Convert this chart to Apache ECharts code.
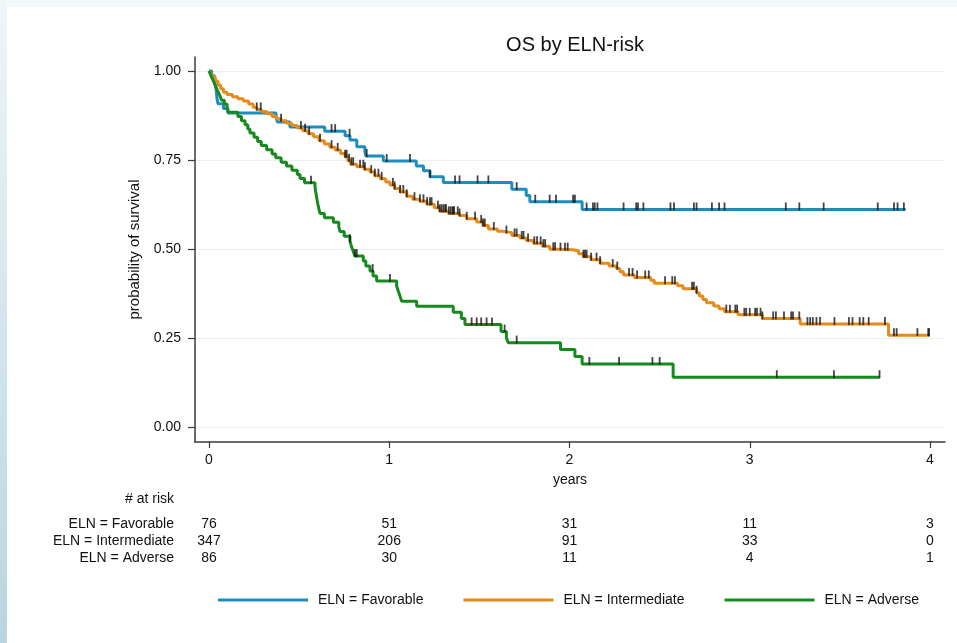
<!DOCTYPE html>
<html><head><meta charset="utf-8">
<script src="https://cdn.jsdelivr.net/npm/echarts@6/dist/echarts.min.js"></script>
<style>
html,body{margin:0;padding:0;width:957px;height:643px;overflow:hidden;background:#fff;}
#edgeL{position:absolute;left:0;top:0;width:7px;height:643px;background:linear-gradient(#eef6f9,#b9d5e0);}
#edgeT{position:absolute;left:7px;top:0;width:950px;height:7px;background:#f3f8fa;}
#chart{position:absolute;left:0;top:0;width:957px;height:643px;}
</style></head><body>
<div id="edgeL"></div><div id="edgeT"></div>
<div id="chart"></div>
<script>
// ---------- data ----------
const groupNames = ['ELN = Favorable', 'ELN = Intermediate', 'ELN = Adverse'];
const xTicks = [0, 1, 2, 3, 4];
const yTicks = [0, 0.25, 0.5, 0.75, 1];

// Kaplan-Meier steps: [years, survival after the event]
const favorableSteps = [
  [0,1],[0.015,0.987],[0.03,0.974],[0.04,0.947],[0.045,0.921],[0.05,0.908],[0.08,0.895],[0.105,0.882],
  [0.372,0.869],[0.38,0.857],[0.449,0.843],[0.642,0.831],[0.755,0.818],[0.782,0.806],[0.82,0.787],
  [0.865,0.774],[0.87,0.761],[0.967,0.747],[1.15,0.733],[1.19,0.72],[1.226,0.703],[1.30,0.687],
  [1.68,0.668],[1.76,0.650],[1.78,0.633],[2.07,0.611],[3.865,0.611]
];
const intermediateSteps = [
  [0,1],[0.01,0.994],[0.02,0.983],[0.035,0.971],[0.05,0.96],[0.065,0.95],[0.08,0.94],
  [0.1,0.934],[0.13,0.928],[0.16,0.922],[0.19,0.916],[0.22,0.907],[0.245,0.898],[0.265,0.892],[0.29,0.886],
  [0.32,0.880],[0.35,0.872],[0.375,0.866],[0.40,0.860],[0.43,0.853],[0.46,0.847],[0.49,0.840],[0.52,0.832],
  [0.55,0.824],[0.58,0.815],[0.61,0.804],[0.64,0.795],[0.67,0.786],[0.70,0.778],[0.73,0.768],[0.755,0.759],
  [0.77,0.748],[0.785,0.738],[0.82,0.731],[0.86,0.724],[0.893,0.716],[0.92,0.706],[0.95,0.697],[0.98,0.688],
  [1.004,0.680],[1.03,0.670],[1.06,0.660],[1.097,0.648],[1.13,0.640],[1.17,0.634],[1.21,0.626],[1.25,0.616],
  [1.28,0.606],[1.33,0.600],[1.39,0.594],[1.43,0.585],[1.485,0.576],[1.52,0.566],[1.55,0.556],[1.6,0.550],
  [1.63,0.546],[1.68,0.538],[1.725,0.531],[1.76,0.524],[1.8,0.516],[1.85,0.508],[1.89,0.499],[1.95,0.498],
  [2.02,0.495],[2.05,0.487],[2.077,0.478],[2.12,0.470],[2.17,0.460],[2.22,0.452],[2.26,0.445],[2.28,0.436],
  [2.30,0.427],[2.36,0.420],[2.45,0.412],[2.47,0.404],[2.6,0.397],[2.63,0.388],[2.705,0.377],[2.72,0.368],
  [2.74,0.358],[2.76,0.349],[2.80,0.340],[2.83,0.332],[2.86,0.324],[2.935,0.315],[3.07,0.305],[3.28,0.289],
  [3.77,0.258],[4.0,0.258]
];
const adverseSteps = [
  [0,1],[0.01,0.988],[0.02,0.977],[0.03,0.965],[0.04,0.953],[0.05,0.942],[0.061,0.93],[0.07,0.918],
  [0.085,0.907],[0.1,0.895],[0.107,0.884],[0.16,0.872],[0.18,0.86],[0.2,0.849],[0.215,0.837],[0.227,0.826],
  [0.25,0.814],[0.27,0.802],[0.29,0.791],[0.32,0.779],[0.35,0.767],[0.37,0.756],[0.40,0.744],[0.43,0.733],
  [0.46,0.721],[0.49,0.709],[0.505,0.698],[0.53,0.686],[0.588,0.674],[0.592,0.661],[0.596,0.649],[0.60,0.637],
  [0.605,0.624],[0.61,0.612],[0.616,0.600],[0.64,0.588],[0.69,0.575],[0.72,0.562],[0.727,0.549],[0.75,0.536],
  [0.782,0.522],[0.79,0.508],[0.80,0.494],[0.81,0.480],[0.856,0.466],[0.87,0.452],[0.893,0.438],[0.91,0.424],
  [0.93,0.410],[1.041,0.396],[1.05,0.382],[1.06,0.367],[1.069,0.353],[1.152,0.339],[1.355,0.322],[1.40,0.305],
  [1.42,0.288],[1.62,0.268],[1.65,0.250],[1.66,0.237],[1.95,0.218],[2.03,0.198],[2.07,0.177],[2.575,0.140],
  [3.72,0.140]
];

// censoring times (years)
const favorableCensored = [0.68,0.70,0.78,0.875,0.986,1.115,1.226,1.365,1.39,1.49,1.55,1.707,1.81,1.89,1.925,
  2.02,2.03,2.095,2.13,2.14,2.155,2.30,2.37,2.38,2.41,2.56,2.58,2.69,2.705,2.79,2.83,2.86,3.20,3.275,3.41,3.71,3.80,3.82,3.855];
const intermediateCensored = [0.265,0.287,0.40,0.51,0.533,0.556,0.616,0.68,0.714,0.755,0.764,0.777,0.79,0.80,0.838,
  0.856,0.865,0.90,0.92,0.94,0.958,1.02,1.03,1.06,1.078,1.097,1.14,1.17,1.19,1.21,1.226,1.235,1.27,1.28,1.29,1.30,
  1.31,1.315,1.33,1.34,1.35,1.355,1.36,1.38,1.39,1.43,1.476,1.51,1.52,1.53,1.58,1.65,1.695,1.707,1.735,1.745,1.77,
  1.805,1.82,1.84,1.855,1.865,1.91,1.92,1.95,1.975,1.99,2.077,2.086,2.095,2.12,2.15,2.17,2.24,2.265,2.33,2.35,2.375,
  2.42,2.44,2.53,2.57,2.585,2.68,2.69,2.705,2.87,2.89,2.92,2.93,2.97,2.98,3.0,3.03,3.04,3.06,3.07,3.13,3.145,3.19,
  3.23,3.24,3.275,3.32,3.335,3.35,3.37,3.39,3.47,3.55,3.57,3.61,3.63,3.66,3.75,3.80,3.815,3.93,3.99,3.995];
const adverseCensored = [0.566,0.782,0.81,0.82,0.908,1.004,1.457,1.485,1.51,1.54,1.57,1.64,1.707,2.11,2.275,2.46,2.50,3.15,3.467,3.72];

// number at risk at 0,1,2,3,4 years
const favorableAtRisk = [76, 51, 31, 11, 3];
const intermediateAtRisk = [347, 206, 91, 33, 0];
const adverseAtRisk = [86, 30, 11, 4, 1];

// ---------- styling / layout ----------
const colors = ['#1d8dbd', '#e68a1c', '#178a1f'];
const frame = {left: 195, right: 945, top: 57, bottom: 442};
const dataPx = {x0: 209, x4: 930, y0: 427, y1: 71};
const pxPerYear = (dataPx.x4 - dataPx.x0) / 4;
const pxPerUnit = dataPx.y0 - dataPx.y1;
const xMin = -(dataPx.x0 - frame.left) / pxPerYear;
const xMax = 4 + (frame.right - dataPx.x4) / pxPerYear;
const yMin = -(frame.bottom - dataPx.y0) / pxPerUnit;
const yMax = 1 + (dataPx.y1 - frame.top) / pxPerUnit;

function survAt(steps, t) {
  let s = steps[0][1];
  for (const p of steps) { if (p[0] <= t) s = p[1]; else break; }
  return s;
}
const stepsList = [favorableSteps, intermediateSteps, adverseSteps];
const censList = [favorableCensored, intermediateCensored, adverseCensored];
const riskList = [favorableAtRisk, intermediateAtRisk, adverseAtRisk];

const FONT = 'Liberation Sans, Arial, Helvetica, sans-serif';
const chart = echarts.init(document.getElementById('chart'), null, {renderer: 'canvas'});

const series = [];
stepsList.forEach((st, i) => {
  series.push({
    name: groupNames[i], type: 'line', step: 'end', data: st, showSymbol: false,
    lineStyle: {color: colors[i], width: 3}, itemStyle: {color: colors[i]},
    z: 2 + i, animation: false
  });
});
censList.forEach((cs, i) => {
  series.push({
    name: groupNames[i] + ' censored', type: 'scatter', symbol: 'rect',
    symbolSize: [1.8, 8], symbolOffset: [0, -3],
    itemStyle: {color: '#151515'},
    data: cs.map(t => [t, survAt(stepsList[i], t)]), z: 10, animation: false, silent: true
  });
});

chart.setOption({
  animation: false,
  backgroundColor: 'transparent',
  title: {
    text: 'OS by ELN-risk', left: (frame.left + frame.right) / 2, textAlign: 'center', top: 30,
    textStyle: {fontFamily: FONT, fontSize: 20, fontWeight: 'normal', color: '#111'}
  },
  grid: {left: frame.left, top: frame.top, width: frame.right - frame.left, height: frame.bottom - frame.top},
  xAxis: {
    type: 'value', min: xMin, max: xMax,
    name: 'years', nameLocation: 'middle', nameGap: 31,
    nameTextStyle: {fontFamily: FONT, fontSize: 14, color: '#111'},
    axisLine: {show: true, onZero: false, lineStyle: {color: '#3a3a3a', width: 1.5}},
    axisTick: {show: true, length: 6, customValues: xTicks, lineStyle: {color: '#3a3a3a', width: 1.2}},
    axisLabel: {customValues: xTicks, margin: 11, fontFamily: FONT, fontSize: 14, color: '#111',
      formatter: v => String(Math.round(v))},
    splitLine: {show: false}
  },
  yAxis: {
    type: 'value', min: yMin, max: yMax,
    name: 'probability of survival', nameLocation: 'middle', nameGap: 50,
    nameTextStyle: {fontFamily: FONT, fontSize: 15, color: '#111'},
    axisLine: {show: true, onZero: false, lineStyle: {color: '#3a3a3a', width: 1.5}},
    axisTick: {show: true, length: 7, customValues: yTicks, lineStyle: {color: '#3a3a3a', width: 1.2}},
    axisLabel: {customValues: yTicks, margin: 14, fontFamily: FONT, fontSize: 14, color: '#111',
      formatter: v => v.toFixed(2)},
    splitLine: {show: true, lineStyle: {color: '#ebf0f2', width: 1.2}}
  },
  legend: {
    data: groupNames, left: 213, top: 588, icon: 'rect', itemWidth: 90, itemHeight: 3, itemGap: 40,
    textStyle: {fontFamily: FONT, fontSize: 14, color: '#111', padding: [0, 0, 0, 5]},
    selectedMode: false
  },
  series: series
});

// risk table built from the axis scale
const gfx = [];
const labelRight = 174;
const rowY = [524, 541, 558];
gfx.push({type: 'text', x: labelRight, y: 499, style: {text: '# at risk', font: '14px ' + FONT, fill: '#111',
  textAlign: 'right', textVerticalAlign: 'middle'}});
groupNames.forEach((g, i) => {
  gfx.push({type: 'text', x: labelRight, y: rowY[i], style: {text: g, font: '14px ' + FONT, fill: '#111',
    textAlign: 'right', textVerticalAlign: 'middle'}});
  riskList[i].forEach((n, j) => {
    const px = chart.convertToPixel({xAxisIndex: 0}, xTicks[j]);
    gfx.push({type: 'text', x: px, y: rowY[i], style: {text: String(n), font: '14px ' + FONT, fill: '#111',
      textAlign: 'center', textVerticalAlign: 'middle'}});
  });
});
chart.setOption({graphic: gfx});
</script>
</body></html>
